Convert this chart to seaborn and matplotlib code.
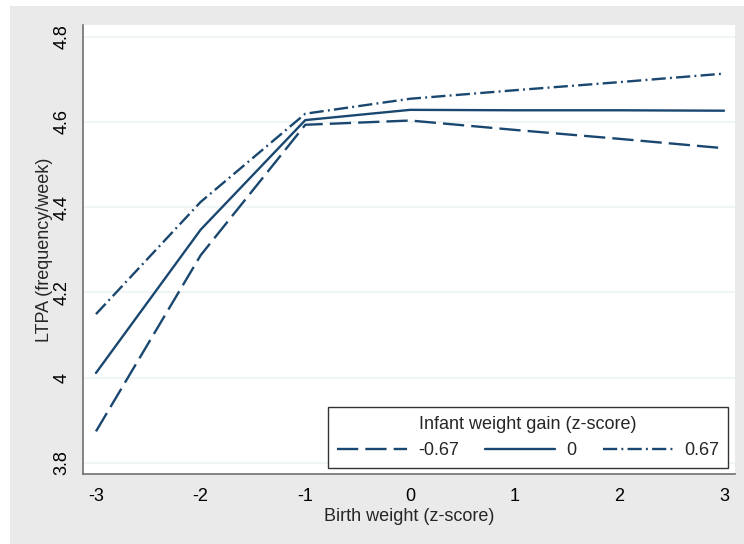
import pandas as pd
import matplotlib
matplotlib.use('Agg')
import matplotlib.pyplot as plt
import seaborn as sns
from matplotlib.patches import Rectangle

# values
birth_weight = [-3, -2, -1, 0, 1, 2, 3]
gain_levels = ['-0.67', '0', '0.67']
ltpa_low = [3.874, 4.287, 4.593, 4.603, 4.581, 4.560, 4.538]
ltpa_mid = [4.011, 4.347, 4.604, 4.628, 4.627, 4.627, 4.626]
ltpa_high = [4.149, 4.412, 4.619, 4.654, 4.674, 4.693, 4.713]
y_ticks = [3.8, 4, 4.2, 4.4, 4.6, 4.8]
y_ticklabels = ['3.8', '4', '4.2', '4.4', '4.6', '4.8']

rows = []
for lvl, vals in zip(gain_levels, [ltpa_low, ltpa_mid, ltpa_high]):
    for x, y in zip(birth_weight, vals):
        rows.append({'bw': x, 'ltpa': y, 'gain': lvl})
df = pd.DataFrame(rows)

sns.set_style('white')
plt.rcParams['font.family'] = ['Liberation Sans', 'DejaVu Sans']
plt.rcParams['font.size'] = 13

navy = '#1a476f'
bg = '#eaeaea'

fig = plt.figure(figsize=(7.44, 5.44), dpi=100, facecolor='white')
fig.patches.append(Rectangle((10/744, 0), 1 - 10/744, 1 - 6/544, transform=fig.transFigure,
                             facecolor=bg, edgecolor='none', zorder=-10))
ax = fig.add_axes([83/744, 70/544, 652/744, 449/544])
ax.set_facecolor('white')

sns.lineplot(data=df, x='bw', y='ltpa', style='gain', style_order=gain_levels,
             dashes={'-0.67': (9, 3), '0': '', '0.67': (6, 1.8, 0.8, 1.8)},
             color=navy, linewidth=1.7, ax=ax)

ax.set_xlim(-3.124, 3.105)
ax.set_ylim(3.774, 4.827)
ax.set_xticks(birth_weight)
ax.set_xticklabels([str(v) for v in birth_weight])
ax.set_yticks(y_ticks)
ax.set_yticklabels(y_ticklabels, rotation=90, va='center')
for t in y_ticks:
    ax.axhline(t, color='#edf4f5', lw=1.2, zorder=0)

for s in ['top', 'right']:
    ax.spines[s].set_visible(False)
for s in ['left', 'bottom']:
    ax.spines[s].set_color('#707070')
    ax.spines[s].set_linewidth(1.2)
ax.tick_params(axis='both', direction='out', length=5, width=1, color='#707070',
               labelsize=13, labelcolor='black')
ax.tick_params(axis='x', pad=5)
ax.tick_params(axis='y', pad=4)

ax.set_xlabel('Birth weight (z-score)', fontsize=13, labelpad=2)
ax.set_ylabel('LTPA (frequency/week)', fontsize=13, labelpad=0)

handles, labels = ax.get_legend_handles_labels()
leg = ax.legend(handles, labels, ncol=3, title='Infant weight gain (z-score)',
                loc='lower right', bbox_to_anchor=(0.989, 0.0134), borderaxespad=0,
                frameon=True, fancybox=False, edgecolor='#333333', facecolor='white',
                framealpha=1, fontsize=13, title_fontsize=13, handlelength=3.9,
                columnspacing=1.45, handletextpad=0.6, borderpad=0.5, labelspacing=0.5)
leg.get_frame().set_linewidth(1.0)

fig.savefig('out.png', dpi=100, facecolor=fig.get_facecolor())
